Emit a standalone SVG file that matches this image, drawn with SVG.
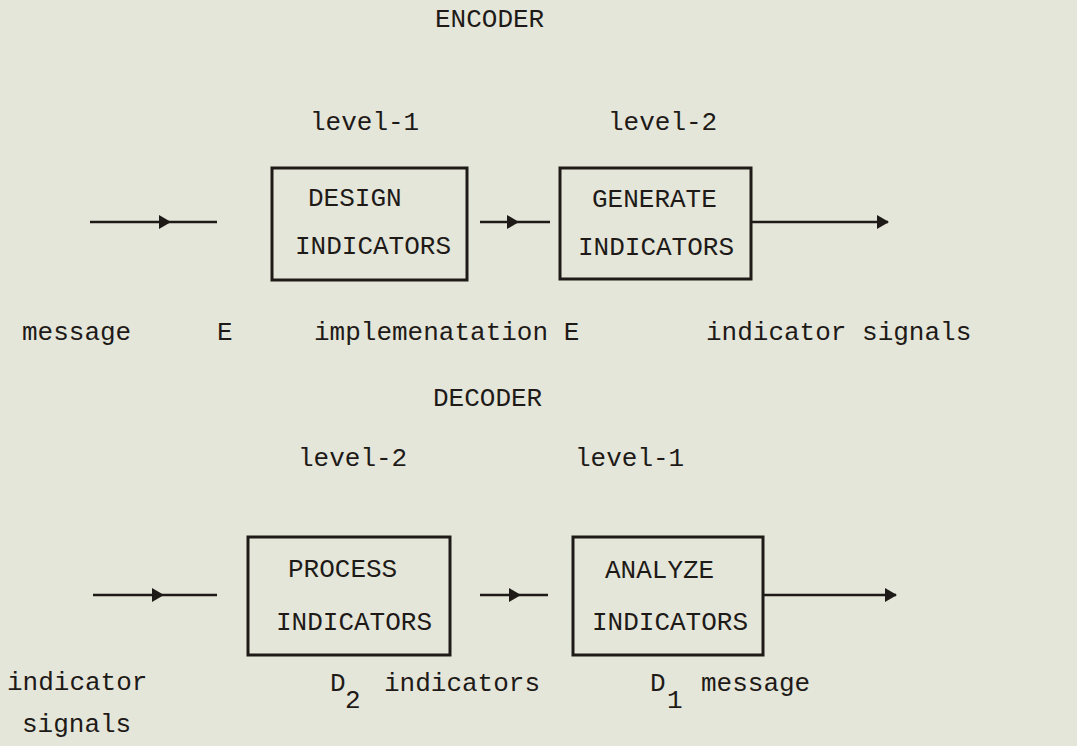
<svg xmlns="http://www.w3.org/2000/svg" width="1077" height="746" viewBox="0 0 1077 746">
<style>
text{font-family:"Liberation Mono","DejaVu Sans Mono",monospace;font-size:26px;fill:#1e1a18}
.box{fill:none;stroke:#1e1a18;stroke-width:3}
.conn{fill:none;stroke:#1e1a18;stroke-width:2.6}
</style>
<defs>
<marker id="mid" viewBox="0 0 12 14" refX="6" refY="7" markerWidth="12" markerHeight="14" markerUnits="userSpaceOnUse" orient="auto">
<path d="M0,0 L12,7 L0,14 z" fill="#1e1a18"/>
</marker>
<marker id="end" viewBox="0 0 12 14" refX="11" refY="7" markerWidth="12" markerHeight="14" markerUnits="userSpaceOnUse" orient="auto">
<path d="M0,0 L12,7 L0,14 z" fill="#1e1a18"/>
</marker>
</defs>
<rect width="1077" height="746" fill="#e5e6da"/>
<g id="titles">
<text x="435" y="27">ENCODER</text>
<text x="310" y="130">level-1</text>
<text x="608" y="130">level-2</text>
<text x="433" y="406">DECODER</text>
<text x="298" y="466">level-2</text>
<text x="575" y="466">level-1</text>
</g>
<g id="connectors">
<path class="conn" d="M90,222 L165,222 L217,222" marker-mid="url(#mid)"/>
<path class="conn" d="M480,222 L513,222 L550,222" marker-mid="url(#mid)"/>
<path class="conn" d="M751,222 L888,222" marker-end="url(#end)"/>
<path class="conn" d="M93,595 L158,595 L217,595" marker-mid="url(#mid)"/>
<path class="conn" d="M480,595 L515,595 L548,595" marker-mid="url(#mid)"/>
<path class="conn" d="M763,595 L896,595" marker-end="url(#end)"/>
</g>
<g id="design">
<rect class="box" x="272" y="168" width="195" height="112"/>
<text x="308" y="206">DESIGN</text>
<text x="295" y="254">INDICATORS</text>
</g>
<g id="generate">
<rect class="box" x="560" y="168" width="191" height="111"/>
<text x="592" y="207">GENERATE</text>
<text x="578" y="255">INDICATORS</text>
</g>
<g id="process">
<rect class="box" x="248" y="537" width="202" height="118"/>
<text x="288" y="577">PROCESS</text>
<text x="276" y="630">INDICATORS</text>
</g>
<g id="analyze">
<rect class="box" x="573" y="537" width="190" height="118"/>
<text x="605" y="578">ANALYZE</text>
<text x="592" y="630">INDICATORS</text>
</g>
<g id="labels">
<text x="22" y="340">message</text>
<text x="217" y="340">E</text>
<text x="314" y="340">implemenatation E</text>
<text x="706" y="340">indicator signals</text>
<text x="7" y="690">indicator</text>
<text x="22" y="732">signals</text>
<text x="330" y="691">D</text>
<text x="345" y="708">2</text>
<text x="384" y="691">indicators</text>
<text x="650" y="691">D</text>
<text x="667" y="708">1</text>
<text x="701" y="691">message</text>
</g>
</svg>
